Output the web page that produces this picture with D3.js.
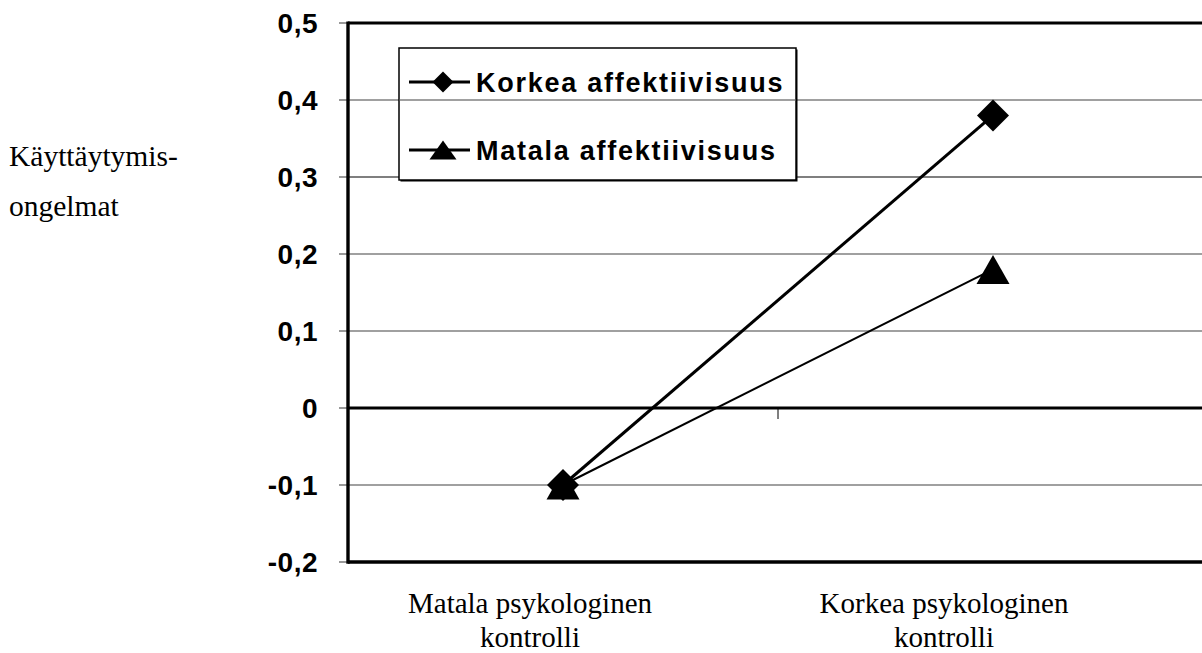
<!DOCTYPE html>
<html><head><meta charset="utf-8">
<script src="https://cdn.jsdelivr.net/npm/d3@7"></script>
<style>html,body{margin:0;padding:0;background:#fff;overflow:hidden}</style>
</head><body>
<svg id="c" width="1202" height="653"></svg>
<script>
const categories = ["Matala psykologinen|kontrolli", "Korkea psykologinen|kontrolli"];
const seriesNames = ["Korkea affektiivisuus", "Matala affektiivisuus"];
const korkeaValues = [-0.1, 0.38];
const matalaValues = [-0.1, 0.18];
const yTicks = [0.5, 0.4, 0.3, 0.2, 0.1, 0, -0.1, -0.2];
const yTickLabels = ["0,5", "0,4", "0,3", "0,2", "0,1", "0", "-0,1", "-0,2"];
const yTitle = ["Käyttäytymis-", "ongelmat"];

const svg = d3.select("#c");
const L = 348, R = 1208, T = 23, B = 562;
const x = d3.scaleBand().domain(categories).range([L, R]);
const cx = c => x(c) + x.bandwidth() / 2;
const y = d3.scaleLinear().domain([-0.2, 0.5]).range([B, T]);

// gridlines
svg.append("g").selectAll("line").data(yTicks.filter(v => v !== 0.5 && v !== -0.2 && v !== 0)).join("line")
  .attr("x1", L).attr("x2", R).attr("y1", d => y(d)).attr("y2", d => y(d))
  .attr("stroke", d => d === 0.3 ? "#000" : "#808080").attr("stroke-width", d => d === 0.3 ? 1.2 : 1.6);

// left ticks
svg.append("g").selectAll("line").data(yTicks).join("line")
  .attr("x1", L - 9).attr("x2", L).attr("y1", d => y(d)).attr("y2", d => y(d))
  .attr("stroke", "#555").attr("stroke-width", 1.2);

// zero line, top and bottom borders
svg.append("line").attr("x1", L).attr("x2", R).attr("y1", y(0)).attr("y2", y(0)).attr("stroke", "#000").attr("stroke-width", 2.8);
svg.append("line").attr("x1", L).attr("x2", R).attr("y1", y(0.5)).attr("y2", y(0.5)).attr("stroke", "#000").attr("stroke-width", 3);
svg.append("line").attr("x1", L).attr("x2", R).attr("y1", y(-0.2)).attr("y2", y(-0.2)).attr("stroke", "#000").attr("stroke-width", 3.4);
svg.append("line").attr("x1", L).attr("x2", L).attr("y1", y(0.5) - 1.5).attr("y2", y(-0.2) + 1.7).attr("stroke", "#000").attr("stroke-width", 3.4);
// category divider tick
svg.append("line").attr("x1", x(categories[1])).attr("x2", x(categories[1])).attr("y1", y(0)).attr("y2", y(0) + 11).attr("stroke", "#000").attr("stroke-width", 1);

// y tick labels
svg.append("g").selectAll("text").data(yTicks).join("text")
  .attr("x", 318).attr("y", d => y(d)).attr("dy", "0.36em").attr("text-anchor", "end")
  .attr("font-family", "Liberation Sans, Arial, sans-serif").attr("font-weight", "bold").attr("font-size", 28)
  .attr("letter-spacing", 0.5)
  .text((d, i) => yTickLabels[i]);

// y title
svg.append("g").selectAll("text").data(yTitle).join("text")
  .attr("x", 9).attr("y", (d, i) => 166 + i * 50)
  .attr("font-family", "Liberation Serif, Times New Roman, serif").attr("font-size", 29.5)
  .text(d => d);

// x labels
const labelShift = [-33, -49];
const xl = svg.append("g").selectAll("text").data(categories).join("text")
  .attr("text-anchor", "middle").attr("font-family", "Liberation Serif, Times New Roman, serif").attr("font-size", 29);
xl.each(function(d, j) {
  const parts = d.split("|");
  const t = d3.select(this);
  parts.forEach((p, i) => t.append("tspan").attr("x", cx(d) + labelShift[j]).attr("y", 613 + i * 34).text(p));
});

const line = d3.line().x((d, i) => cx(categories[i])).y(d => y(d));

// series lines
svg.append("path").datum(korkeaValues).attr("d", line).attr("fill", "none").attr("stroke", "#000").attr("stroke-width", 3);
svg.append("path").datum(matalaValues).attr("d", line).attr("fill", "none").attr("stroke", "#000").attr("stroke-width", 2);

// markers
function drawDiamond(g, px, py, r) {
  g.append("path").attr("d", `M${px},${py - r}L${px + r},${py}L${px},${py + r}L${px - r},${py}Z`).attr("fill", "#000");
}
function drawTri(g, px, py, w, h) {
  g.append("path").attr("d", `M${px},${py - h / 2}L${px + w / 2},${py + h / 2}L${px - w / 2},${py + h / 2}Z`).attr("fill", "#000");
}
const mk = svg.append("g");
korkeaValues.forEach((v, i) => drawDiamond(mk, cx(categories[i]), y(v), 16));
matalaValues.forEach((v, i) => drawTri(mk, cx(categories[i]), y(v), 33, 29));

// legend
const lg = svg.append("g");
lg.append("rect").attr("x", 400.5).attr("y", 49.5).attr("width", 397).attr("height", 132).attr("fill", "#000");
lg.append("rect").attr("x", 399).attr("y", 48).attr("width", 397).attr("height", 132).attr("fill", "#fff").attr("stroke", "#000").attr("stroke-width", 1.5);
// gridline passes visually through the legend in the reference
svg.append("line")
  .attr("x1", 399.75).attr("x2", 795.25).attr("y1", y(0.4)).attr("y2", y(0.4))
  .attr("stroke", "#808080").attr("stroke-width", 1.6);
const lg2 = svg.append("g");
const legY = [82, 150];
seriesNames.forEach((s, i) => {
  lg2.append("line").attr("x1", 409).attr("x2", 470).attr("y1", legY[i]).attr("y2", legY[i]).attr("stroke", "#000").attr("stroke-width", 3);
  if (i === 0) drawDiamond(lg2, 443, legY[i], 10.5); else drawTri(lg2, 443, legY[i], 27, 19);
  lg2.append("text").attr("x", 476).attr("y", legY[i]).attr("dy", "0.36em")
    .attr("font-family", "Liberation Sans, Arial, sans-serif").attr("font-weight", "bold").attr("font-size", 27)
    .attr("letter-spacing", 1.75).text(s);
});
</script>
</body></html>
